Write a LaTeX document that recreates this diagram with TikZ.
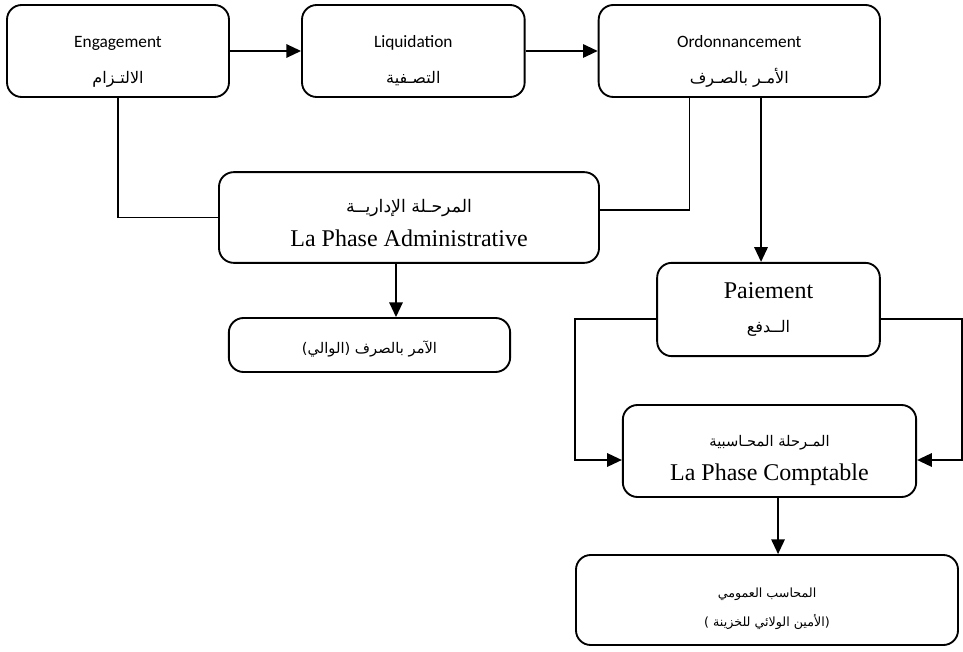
\documentclass[tikz,border=0pt]{standalone}
\usepackage{fontspec}
\setmainfont{Liberation Serif}
\newfontfamily\arabicfont[Script=Arabic]{DejaVu Sans}
\newfontfamily\latinsans{Carlito}
\TeXXeTstate=1
\usetikzlibrary{arrows.meta, positioning, calc}
\newcommand{\artext}[2][11]{{\arabicfont\fontsize{#1}{#1}\selectfont\beginR #2\endR}}
\newcommand{\entext}[1]{{\latinsans\fontsize{13}{15}\selectfont #1}}
\newcommand{\bigtext}[1]{{\fontsize{18}{21}\selectfont #1}}
\newcommand{\lift}[1]{\rule{0pt}{#1}}

\begin{document}
\begin{tikzpicture}[
    x=0.75pt, y=-0.75pt,
    box/.style={rectangle, draw, line width=1.4pt, fill=white,
                rounded corners=11pt, align=center, inner sep=0pt},
    arrow/.style={-{Triangle[length=11pt, width=10pt]}, line width=1.4pt},
    link/.style={line width=0.8pt}
]
    \useasboundingbox (0,0) rectangle (963,652);

    \node[box, minimum width=166.5pt, minimum height=69pt] (engagement) at (118,51)
        {\lift{24pt}\entext{Engagement}\\[15pt]\artext[12]{الالتـزام}};
    \node[box, minimum width=167pt, minimum height=69pt, right=53.35pt of engagement] (liquidation)
        {\lift{24pt}\entext{Liquidation}\\[15pt]\artext[12]{التصـفية}};
    \node[box, minimum width=211pt, minimum height=69pt, right=54.1pt of liquidation] (ordonnancement)
        {\lift{24pt}\entext{Ordonnancement}\\[15pt]\artext[12]{الأمـر بالصـرف}};

    \node[box, minimum width=285pt, minimum height=68pt] (administrative) at (409,217.5)
        {\lift{18pt}\artext[13]{المرحـلة الإداريــة}\\[9pt]\bigtext{La Phase Administrative}};
    \node[box, minimum width=211pt, minimum height=40.5pt] (wali) at (369.5,345)
        {\lift{16pt}\artext{الآمر بالصرف (الوالي)}};

    \node[box, minimum width=167pt, minimum height=70pt] (paiement) at (768.5,309.5)
        {\bigtext{Paiement}\\[13pt]\artext[12]{الــدفع}};
    \node[box, minimum width=220pt, minimum height=69pt] (comptable) at (769.5,451)
        {\lift{23pt}\artext{المـرحلة المحـاسبية}\\[9pt]\bigtext{La Phase Comptable}};
    \node[box, minimum width=286.5pt, minimum height=67.5pt] (comptablepublic) at (767,600)
        {\lift{20pt}\artext[9.5]{المحاسب العمومي}\\[10pt]\artext[9.5]{(الأمين الولائي للخزينة )}};

    \draw[arrow] (engagement) -- (liquidation);
    \draw[arrow] (liquidation) -- (ordonnancement);
    \draw[link] (engagement.south) |- (administrative.west);
    \draw[link] ([xshift=-37.1pt]ordonnancement.south) |- ([yshift=5.6pt]administrative.east);
    \draw[arrow] ([xshift=-5.6pt]paiement.north |- ordonnancement.south) -- ([xshift=-5.6pt]paiement.north);
    \draw[arrow] ([xshift=-9.75pt]administrative.south) -- ([xshift=-9.75pt]administrative.south |- wali.north);
    \draw[arrow] ([yshift=-7pt]paiement.west) -- ++(-81,0) |- ([yshift=-6.75pt]comptable.west);
    \draw[arrow] ([yshift=-7pt]paiement.east) -- ++(81,0) |- ([yshift=-6.75pt]comptable.east);
    \draw[arrow] ([xshift=6.4pt]comptable.south) -- ([xshift=6.4pt]comptable.south |- comptablepublic.north);
\end{tikzpicture}
\end{document}
